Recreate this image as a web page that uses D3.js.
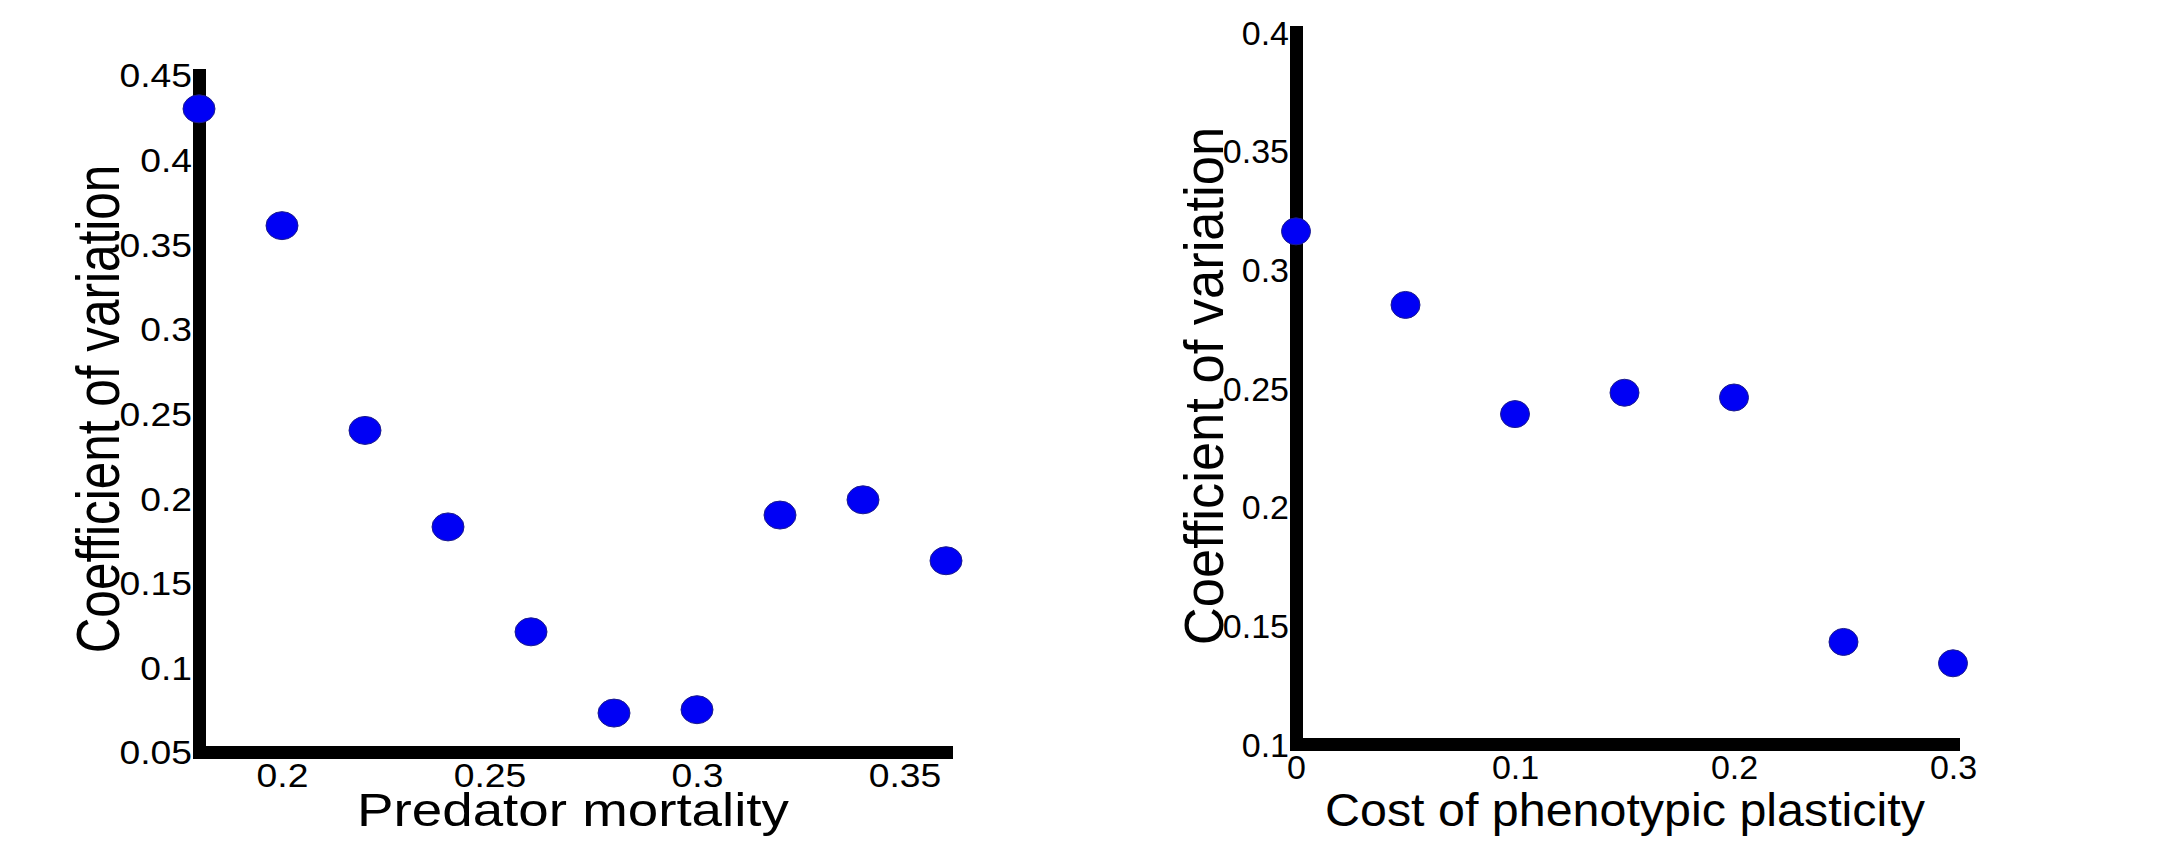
<!DOCTYPE html>
<html>
<head>
<meta charset="utf-8">
<script src="https://cdn.jsdelivr.net/npm/d3@7/dist/d3.min.js"></script>
<style>
  html, body { margin: 0; padding: 0; background: #fff; }
  svg { display: block; }
  text { font-family: "Liberation Sans", Arial, Helvetica, sans-serif; fill: #000; }
</style>
</head>
<body>
<svg id="chart" width="2167" height="844"></svg>
<script>
// left panel: predator mortality
const predatorMortality = [0.18, 0.20, 0.22, 0.24, 0.26, 0.28, 0.30, 0.32, 0.34, 0.36];
const cvMortality = [0.430, 0.361, 0.240, 0.183, 0.121, 0.073, 0.075, 0.190, 0.199, 0.163];
const mortalityTicks = [0.2, 0.25, 0.3, 0.35];
const mortalityCvTicks = [0.05, 0.1, 0.15, 0.2, 0.25, 0.3, 0.35, 0.4, 0.45];

// right panel: cost of plasticity
const plasticityCost = [0, 0.05, 0.10, 0.15, 0.20, 0.25, 0.30];
const cvPlasticity = [0.316, 0.285, 0.239, 0.248, 0.246, 0.143, 0.134];
const costTicks = [0, 0.1, 0.2, 0.3];
const costCvTicks = [0.1, 0.15, 0.2, 0.25, 0.3, 0.35, 0.4];

const svg = d3.select("#chart");
const fmt = d3.format(".2~f");

// the original figure was stretched, so each panel gets its own text stretch
const panels = [
    {
        xs: predatorMortality, ys: cvMortality,
        xDomain: [0.18, 0.36], yDomain: [0.05, 0.45],
        xRange: [199, 946], yRange: [752, 75],
        xTicks: mortalityTicks, yTicks: mortalityCvTicks,
        xTitle: "Predator mortality", yTitle: "Coefficient of variation",
        tickFont: 33, tickSx: 1.13, titleFont: 46, titleSx: 1.19,
        yTitleFont: 49.5, yTitleSx: 1.25, yTitleX: 119, yTitleY: 409,
        xTitleX: 573, xTitleY: 826,
        rx: 16, ry: 14
    },
    {
        xs: plasticityCost, ys: cvPlasticity,
        xDomain: [0, 0.3], yDomain: [0.1, 0.4],
        xRange: [1296, 1953], yRange: [744, 32],
        xTicks: costTicks, yTicks: costCvTicks,
        xTitle: "Cost of phenotypic plasticity", yTitle: "Coefficient of variation",
        tickFont: 34, tickSx: 1.0, titleFont: 47, titleSx: 1.03,
        yTitleFont: 52.5, yTitleSx: 1.06, yTitleX: 1223, yTitleY: 386,
        xTitleX: 1625, xTitleY: 826,
        rx: 14.5, ry: 13.5
    }
];

panels.forEach(p => {
    const x = d3.scaleLinear().domain(p.xDomain).range(p.xRange);
    const y = d3.scaleLinear().domain(p.yDomain).range(p.yRange);
    const g = svg.append("g");

    const yAxis = g.append("g")
        .attr("transform", `translate(${p.xRange[0]},0)`)
        .call(d3.axisLeft(y).tickValues(p.yTicks).tickFormat(fmt).tickSize(0).tickSizeOuter(0));

    const xAxis = g.append("g")
        .attr("transform", `translate(0,${p.yRange[0]})`)
        .call(d3.axisBottom(x).tickValues(p.xTicks).tickFormat(fmt).tickSize(0).tickSizeOuter(0));

    [yAxis, xAxis].forEach(a => {
        a.select(".domain")
            .attr("stroke", "#000")
            .attr("stroke-width", 13)
            .attr("stroke-linecap", "square");
        a.selectAll("text")
            .attr("font-family", null)
            .style("font-size", p.tickFont + "px");
    });

    yAxis.selectAll(".tick text")
        .attr("x", -7 / p.tickSx)
        .attr("dy", "0.36em")
        .attr("transform", `scale(${p.tickSx},1)`);

    xAxis.selectAll(".tick text")
        .attr("y", 23)
        .attr("dy", "0.36em")
        .attr("transform", `scale(${p.tickSx},1)`)
        .attr("x", 0);

    // x axis title
    g.append("text")
        .attr("text-anchor", "middle")
        .attr("transform", `translate(${p.xTitleX},${p.xTitleY}) scale(${p.titleSx},1)`)
        .style("font-size", p.titleFont + "px")
        .text(p.xTitle);

    // y axis title
    g.append("text")
        .attr("text-anchor", "middle")
        .attr("transform", `translate(${p.yTitleX},${p.yTitleY}) scale(${p.yTitleSx},1) rotate(-90)`)
        .style("font-size", p.yTitleFont + "px")
        .text(p.yTitle);

    g.append("g")
        .selectAll("ellipse")
        .data(p.xs.map((v, i) => [v, p.ys[i]]))
        .enter().append("ellipse")
        .attr("cx", d => x(d[0]))
        .attr("cy", d => y(d[1]))
        .attr("rx", p.rx)
        .attr("ry", p.ry)
        .attr("fill", "#0000f5")
        .attr("stroke", "#1c1c8c")
        .attr("stroke-width", 1);
});
</script>
</body>
</html>
